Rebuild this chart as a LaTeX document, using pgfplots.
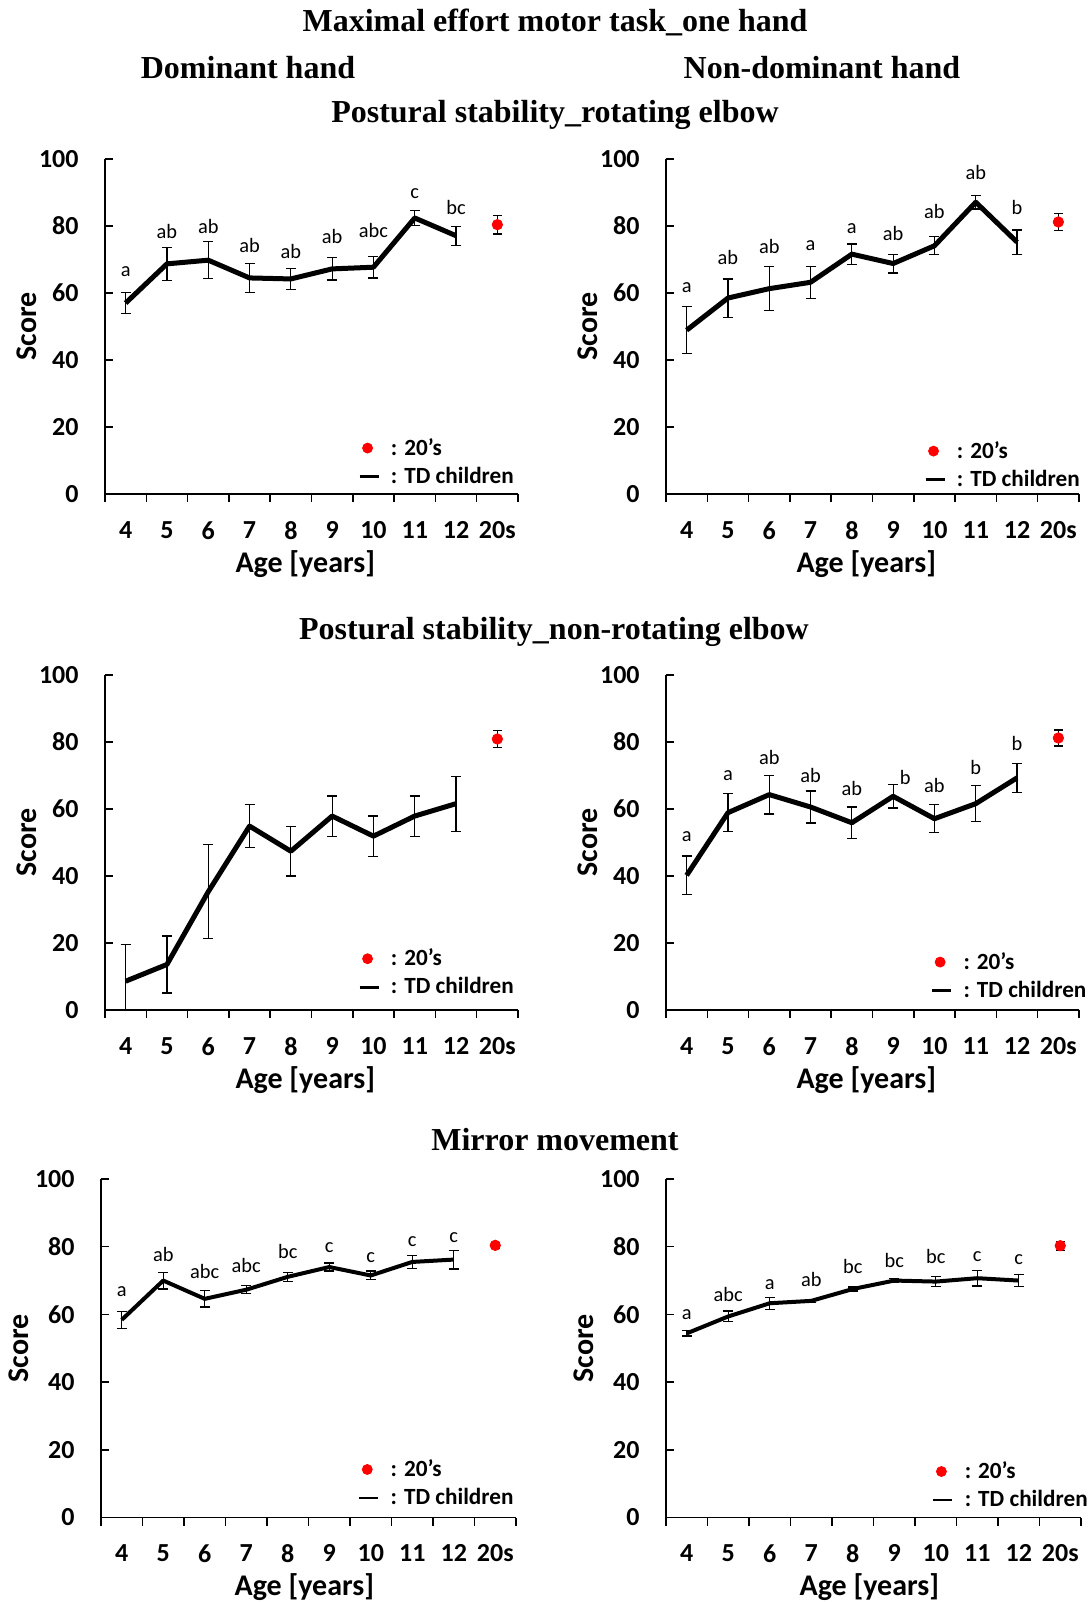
\documentclass[border=0pt]{standalone}
\usepackage{fontspec}
\setmainfont{Carlito}
\newfontfamily\tnr{Liberation Serif}
\usepackage{pgfplots}
\pgfplotsset{compat=1.18}

\newcommand\tickfont{\bfseries\fontsize{13}{15}\selectfont}
\newcommand\labfont{\bfseries\fontsize{15}{18}\selectfont}
\newcommand\legfont{\bfseries\fontsize{11.6}{14}\selectfont}
\newcommand\letfont{\fontsize{10.2}{12}\selectfont}
\newcommand\ttlfont{\tnr\bfseries\fontsize{16}{19}\selectfont}

\pgfplotsset{
  panel/.style={
    scale only axis, width=206.5pt, height=167.5pt,
    xmin=0, xmax=10, ymin=0, ymax=100,
    axis x line*=bottom, axis y line*=left,
    axis line style={line width=0.75pt, black},
    ytick={0,20,40,60,80,100},
    xtick={0.5,1.5,2.5,3.5,4.5,5.5,6.5,7.5,8.5,9.5},
    xticklabels={4,5,6,7,8,9,10,11,12,20s},
    minor xtick={0,1,...,10},
    major x tick style={draw=none},
    minor x tick style={line width=0.75pt, black, yshift=-4pt},
    major y tick style={line width=0.75pt, black},
    major tick length=4pt, minor tick length=4pt,
    /pgf/number format/assume math mode=true,
    ticklabel style={font=\tickfont},
    yticklabel style={inner sep=0pt, xshift=-13pt},
    xticklabel style={inner sep=0pt, yshift=-13.5pt},
    xlabel={Age [years]}, ylabel={Score},
    every axis x label/.style={at={(axis description cs:0.485,0)}, anchor=base, font=\labfont, yshift=-39pt},
    every axis y label/.style={at={(axis description cs:-0.189,0.5)}, anchor=center, rotate=90, font=\labfont},
    legend cell align=left,
    legend style={draw=none, fill=none, inner sep=0pt, outer sep=0pt, font=\legfont,
      row sep=4.5pt, anchor=south west, nodes={inner sep=0pt},
      /tikz/every odd column/.style={column sep=5.5pt}},
  },
  lower/.style={width=207.5pt, height=169.25pt,
    every axis x label/.style={at={(axis description cs:0.49,0)}, anchor=base, font=\labfont, yshift=-39pt},
    every axis y label/.style={at={(axis description cs:-0.198,0.5)}, anchor=center, rotate=90, font=\labfont}},
  tdline/.style={black, line width=#1, line join=round, mark=none, forget plot,
    error bars/.cd, y dir=both, y explicit,
    error bar style={line width=0.6pt, black},
    error mark options={rotate=90, black, mark size=2.5pt, line width=0.6pt}},
  tdline/.default=2.5pt,
  adult/.style={only marks, mark=*, mark size=2.6pt, red, forget plot,
    error bars/.cd, y dir=both, y explicit,
    error bar style={line width=0.6pt, black},
    error mark options={rotate=90, black, mark size=2.2pt, line width=0.6pt}},
  lett/.style={draw=none, mark=none, forget plot,
    nodes near coords, point meta=explicit symbolic,
    every node near coord/.append style={font=\letfont, anchor=base, inner sep=0pt, text=black}},
}

\newcommand\addlegend{%
  \addlegendimage{legend image code/.code={\fill[red] (4pt,0pt) circle (2.5pt);}}
  \addlegendentry{: 20’s}
  \addlegendimage{legend image code/.code={\draw[black, line width=1.4pt] (0pt,0pt) -- (9.5pt,0pt);}}
  \addlegendentry{: TD children}}

\begin{document}
\begin{tikzpicture}
\path[use as bounding box] (0,0) rectangle (544.5pt,-801pt);

% Dominant hand, rotating elbow
\begin{axis}[panel, at={(52.5pt,-79.5pt)}, anchor=north west,
  legend style={at={(rel axis cs:0.613,0.023)}}]
\addlegend
\addplot[tdline] coordinates {
  (0.5,57.0) +- (0,3.2) (1.5,68.7) +- (0,5.0) (2.5,69.8) +- (0,5.5)
  (3.5,64.5) +- (0,4.3) (4.5,64.2) +- (0,3.2) (5.5,67.2) +- (0,3.3)
  (6.5,67.7) +- (0,3.2) (7.5,82.4) +- (0,2.3) (8.5,77.1) +- (0,2.8)};
\addplot[adult] coordinates {(9.5,80.4) +- (0,2.8)};
\addplot[lett] coordinates {
  (0.5,65.0)[a] (1.5,76.4)[ab] (2.5,77.9)[ab] (3.5,72.2)[ab] (4.5,70.4)[ab]
  (5.5,74.7)[ab] (6.5,76.7)[abc] (7.5,88.1)[c] (8.5,83.3)[bc]};
\end{axis}

% Non-dominant hand, rotating elbow
\begin{axis}[panel, at={(333pt,-79.5pt)}, anchor=north west,
  legend style={at={(rel axis cs:0.625,0.014)}}]
\addlegend
\addplot[tdline] coordinates {
  (0.5,48.9) +- (0,7.0) (1.5,58.5) +- (0,5.7) (2.5,61.3) +- (0,6.5)
  (3.5,63.2) +- (0,4.8) (4.5,71.6) +- (0,3.0) (5.5,68.8) +- (0,2.8)
  (6.5,74.1) +- (0,2.7) (7.5,87.1) +- (0,2.0) (8.5,75.2) +- (0,3.6)};
\addplot[adult] coordinates {(9.5,81.2) +- (0,2.5)};
\addplot[lett] coordinates {
  (0.5,60.2)[a] (1.5,68.6)[ab] (2.5,71.7)[ab] (3.5,72.6)[a] (4.5,77.9)[a]
  (5.5,75.6)[ab] (6.5,82.1)[ab] (7.5,93.8)[ab] (8.5,83.3)[b]};
\end{axis}

% Dominant hand, non-rotating elbow
\begin{axis}[panel, at={(52.5pt,-337.5pt)}, anchor=north west,
  legend style={at={(rel axis cs:0.613,0.039)}}]
\addlegend
\addplot[tdline] coordinates {
  (0.5,8.6) += (0,11.0) -= (0,8.6) (1.5,13.6) +- (0,8.5) (2.5,35.3) +- (0,14.0)
  (3.5,54.9) +- (0,6.4) (4.5,47.4) +- (0,7.4) (5.5,57.9) +- (0,6.0)
  (6.5,51.9) +- (0,6.0) (7.5,57.9) +- (0,6.0) (8.5,61.6) +- (0,8.2)};
\addplot[adult] coordinates {(9.5,80.9) +- (0,2.5)};
\end{axis}

% Non-dominant hand, non-rotating elbow
\begin{axis}[panel, at={(333pt,-337.5pt)}, anchor=north west,
  legend style={at={(rel axis cs:0.641,0.029)}}]
\addlegend
\addplot[tdline] coordinates {
  (0.5,40.2) +- (0,5.8) (1.5,58.9) +- (0,5.7) (2.5,64.3) +- (0,5.8)
  (3.5,60.6) +- (0,4.8) (4.5,55.9) +- (0,4.7) (5.5,63.8) +- (0,3.5)
  (6.5,57.1) +- (0,4.2) (7.5,61.6) +- (0,5.3) (8.5,69.3) +- (0,4.4)};
\addplot[adult] coordinates {(9.5,81.2) +- (0,2.4)};
\addplot[lett] coordinates {
  (0.5,50.4)[a] (1.5,68.5)[a] (2.5,73.2)[ab] (3.5,68.0)[ab] (4.5,64.1)[ab]
  (5.79,67.2)[b] (6.5,65.0)[ab] (7.5,70.3)[b] (8.5,77.5)[b]};
\end{axis}

% Dominant hand, mirror movement
\begin{axis}[panel, lower, at={(50.5pt,-589.5pt)}, anchor=north west,
  legend style={at={(rel axis cs:0.619,0.029)}}]
\addlegend
\addplot[tdline=2pt] coordinates {
  (0.5,58.4) +- (0,2.5) (1.5,70.0) +- (0,2.5) (2.5,64.6) +- (0,2.4)
  (3.5,67.3) +- (0,1.2) (4.5,71.1) +- (0,1.3) (5.5,74.0) +- (0,1.2)
  (6.5,71.5) +- (0,1.3) (7.5,75.5) +- (0,1.9) (8.5,76.2) +- (0,2.8)};
\addplot[adult] coordinates {(9.5,80.4) +- (0,0.8)};
\addplot[lett] coordinates {
  (0.5,65.3)[a] (1.5,75.6)[ab] (2.5,70.7)[abc] (3.5,72.5)[abc] (4.5,76.4)[bc]
  (5.5,78.3)[c] (6.5,75.2)[c] (7.5,80.1)[c] (8.5,81.1)[c]};
\end{axis}

% Non-dominant hand, mirror movement
\begin{axis}[panel, lower, at={(333pt,-589.5pt)}, anchor=north west,
  legend style={at={(rel axis cs:0.641,0.023)}}]
\addlegend
\addplot[tdline=2pt] coordinates {
  (0.5,54.4) +- (0,0.8) (1.5,59.4) +- (0,1.6) (2.5,63.3) +- (0,1.8)
  (3.5,64.0) +- (0,0.5) (4.5,67.5) +- (0,0.6) (5.5,70.0) +- (0,0.6)
  (6.5,69.7) +- (0,1.4) (7.5,70.7) +- (0,2.3) (8.5,70.0) +- (0,1.8)};
\addplot[adult] coordinates {(9.5,80.3) +- (0,1.3)};
\addplot[lett] coordinates {
  (0.5,58.6)[a] (1.5,63.8)[abc] (2.5,67.5)[a] (3.5,68.3)[ab] (4.5,72.2)[bc]
  (5.5,73.9)[bc] (6.5,75.0)[bc] (7.5,75.5)[c] (8.5,74.7)[c]};
\end{axis}

\node[anchor=base, font=\ttlfont] at (277.5pt,-15.85pt) {Maximal effort motor task\_one hand};
\node[anchor=base, font=\ttlfont] at (124pt,-39.35pt) {Dominant hand};
\node[anchor=base, font=\ttlfont] at (411pt,-39.35pt) {Non-dominant hand};
\node[anchor=base, font=\ttlfont] at (277.5pt,-61.3pt) {Postural stability\_rotating elbow};
\node[anchor=base, font=\ttlfont] at (277pt,-319.75pt) {Postural stability\_non-rotating elbow};
\node[anchor=base, font=\ttlfont] at (277.5pt,-575pt) {Mirror movement};
\end{tikzpicture}
\end{document}
